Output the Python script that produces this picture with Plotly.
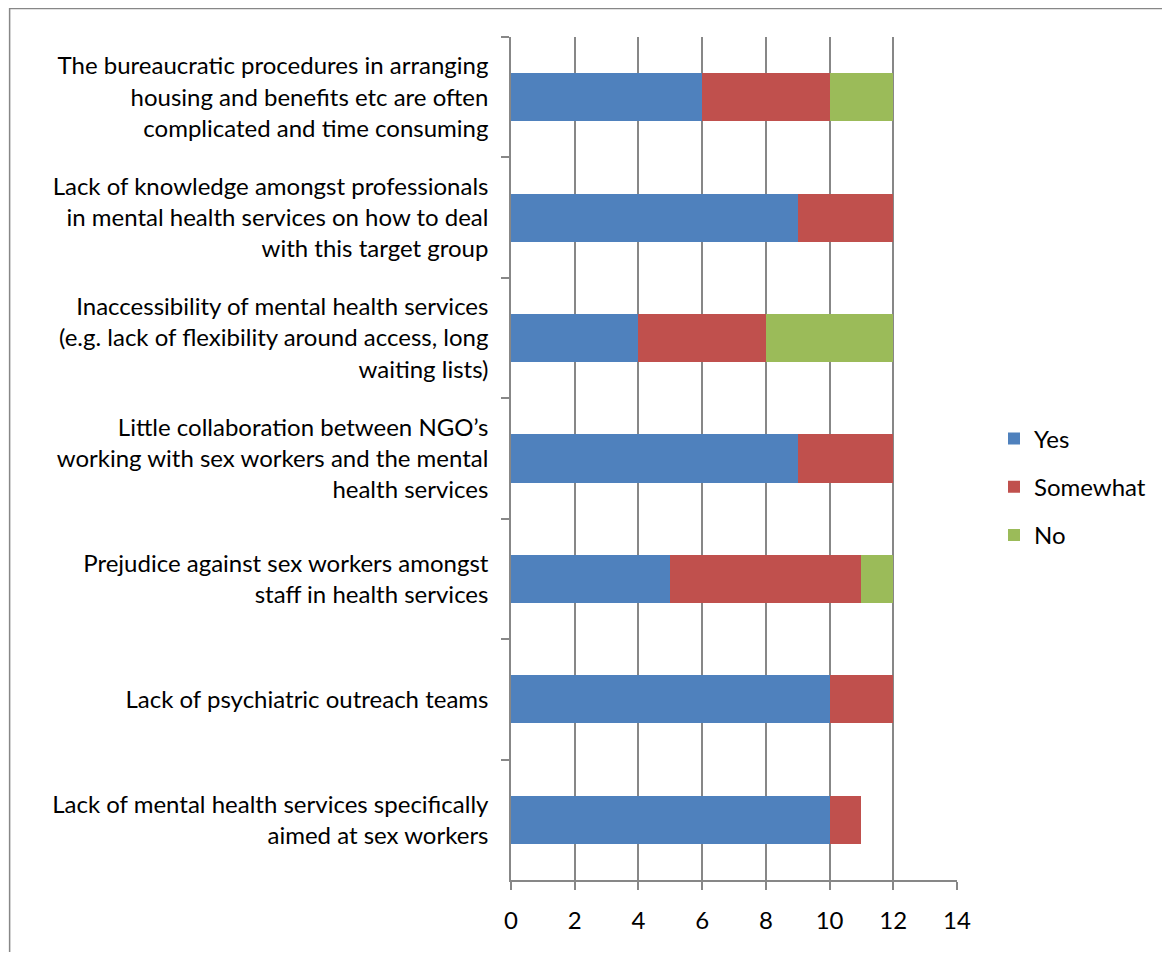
import plotly.graph_objects as go

categories = [
    "The bureaucratic procedures in arranging<br>housing and benefits etc are often<br>complicated and time consuming",
    "Lack of knowledge amongst professionals<br>in mental health services on how to deal<br>with this target group",
    "Inaccessibility of mental health services<br>(e.g. lack of flexibility around access, long<br>waiting lists)",
    "Little collaboration between NGO’s<br>working with sex workers and the mental<br>health services",
    "Prejudice against sex workers amongst<br>staff in health services",
    "Lack of psychiatric outreach teams",
    "Lack of mental health services specifically<br>aimed at sex workers",
]
yes = [6, 9, 4, 9, 5, 10, 10]
somewhat = [4, 3, 4, 3, 6, 2, 1]
no = [2, 0, 4, 0, 1, 0, 0]
x_ticks = [0, 2, 4, 6, 8, 10, 12, 14]

series = [("Yes", yes, "#4F81BD"), ("Somewhat", somewhat, "#C0504D"), ("No", no, "#9BBB59")]

FONT = "Lato"
FS = 24
OFF = 8  # page body margin
W, H = 1170 - 2 * OFF, 960 - 2 * OFF
# target page pixels
PL, PR, PT, PB = 511, 958, 37, 880
L, T = PL - OFF, PT - OFF
R = W - (PR - OFF)
B = H - (PB - OFF)
pw, ph = PR - PL, PB - PT

fig = go.Figure()
for name, vals, color in series:
    fig.add_trace(go.Bar(
        y=categories, x=vals, name=name, orientation="h",
        marker=dict(color=color, line=dict(width=0)),
        legendgroup=name,
    ))

fig.update_layout(
    width=W, height=H,
    margin=dict(l=L, r=R, t=T, b=B, pad=0),
    barmode="stack", bargap=0.6,
    plot_bgcolor="white", paper_bgcolor="white",
    font=dict(family=FONT, size=FS, color="black"),
    showlegend=True,
    legend=dict(x=(994 - PL) / pw, y=(PB - 487) / ph, xanchor="left", yanchor="middle",
                traceorder="grouped", tracegroupgap=14, borderwidth=0,
                bgcolor="rgba(0,0,0,0)",
                font=dict(family=FONT, size=FS, color="black"),
                itemwidth=30),
    xaxis=dict(range=[0, 14], tickvals=x_ticks, ticktext=[str(v) for v in x_ticks],
               showgrid=True, gridcolor="#878787", gridwidth=1.5,
               showline=True, linecolor="#878787", linewidth=1.5,
               ticks="outside", ticklen=8, tickcolor="#878787", tickwidth=1.5,
               zeroline=False, tickfont=dict(size=FS), ticklabelstandoff=10),
    yaxis=dict(categoryorder="array", categoryarray=categories, autorange="reversed",
               showgrid=False, showline=True, linecolor="#878787", linewidth=1.5,
               ticks="outside", tickson="boundaries", ticklen=8, tickcolor="#878787", tickwidth=1.5,
               tickfont=dict(size=FS), ticklabelstandoff=16),
    shapes=[dict(type="rect", xref="paper", yref="paper",
                 x0=(8.5 - PL) / pw, x1=(1200 - PL) / pw,
                 y0=(PB - 1000) / ph, y1=(PB - 8.5) / ph,
                 line=dict(color="#878787", width=1.5), fillcolor="rgba(0,0,0,0)", layer="below")],
)

fig.write_html("out.html")
